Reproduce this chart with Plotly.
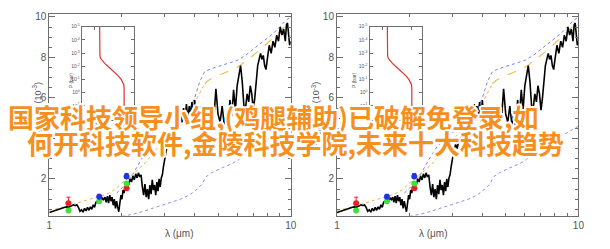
import plotly.graph_objects as go

# ---------------- data ----------------
spec_wl = [1.00, 1.02, 1.04, 1.06, 1.08, 1.10, 1.12, 1.14, 1.16, 1.18, 1.20, 1.22, 1.24, 1.26, 1.28,
           1.30, 1.32, 1.34, 1.36, 1.38, 1.40, 1.42, 1.44, 1.46, 1.48, 1.50, 1.52, 1.54, 1.56, 1.58,
           1.60, 1.62, 1.64, 1.66, 1.68, 1.70, 1.72, 1.74, 1.76, 1.78, 1.80, 1.82, 1.84, 1.86, 1.88,
           1.90, 1.92, 1.94, 1.96, 1.98, 2.00, 2.02, 2.04, 2.06, 2.08, 2.10, 2.13, 2.16, 2.19, 2.22,
           2.25, 2.28, 2.31, 2.34, 2.37, 2.40, 2.43, 2.46, 2.49, 2.52, 2.55, 2.58, 2.61, 2.64, 2.67,
           2.70, 2.73, 2.76, 2.79, 2.82, 2.85, 2.88, 2.91, 2.94, 2.97, 3.00, 3.05, 3.10, 3.15, 3.20,
           3.25, 3.30, 3.35, 3.40, 3.45, 3.50, 3.55, 3.60, 3.65, 3.70, 3.75, 3.80, 3.85, 3.90, 3.95,
           4.00, 4.05, 4.10, 4.15, 4.20, 4.25, 4.30, 4.40, 4.50, 4.60, 4.70, 4.80, 4.90, 5.00, 5.10,
           5.20, 5.30, 5.40, 5.50, 5.60, 5.70, 5.80, 5.90, 6.00, 6.10, 6.20, 6.30, 6.40, 6.50, 6.60,
           6.70, 6.80, 6.90, 7.00, 7.10, 7.20, 7.30, 7.40, 7.50, 7.60, 7.70, 7.80, 7.90, 8.00, 8.15,
           8.30, 8.45, 8.60, 8.75, 8.90, 9.05, 9.20, 9.35, 9.50, 9.60, 9.70, 9.80, 9.90, 10.0]
spec_flux = [0.34, 0.38, 0.40, 0.45, 0.48, 0.52, 0.55, 0.58, 0.60, 0.62, 0.60, 0.64, 0.70, 0.72, 0.68,
             0.72, 0.60, 0.40, 0.48, 0.36, 0.55, 0.42, 0.60, 0.45, 0.62, 0.50, 0.72, 0.60, 0.85, 0.90,
             0.95, 1.00, 0.92, 1.05, 0.98, 1.10, 0.85, 1.15, 0.80, 1.20, 0.90, 1.10, 0.70, 1.00, 0.55,
             0.90, 0.62, 0.38, 0.80, 1.20, 1.00, 1.45, 1.30, 1.60, 1.55, 1.85, 1.70, 2.00, 1.85, 2.15,
             1.95, 2.25, 2.05, 2.30, 2.10, 2.20, 1.60, 1.20, 1.75, 1.10, 1.50, 1.00, 1.70, 1.25, 1.95,
             1.45, 1.70, 1.20, 1.85, 1.40, 2.00, 1.60, 2.05, 2.20, 2.60, 3.00, 3.40, 3.70, 3.50, 4.00,
             3.80, 4.30, 4.70, 4.40, 5.00, 5.30, 4.80, 5.50, 5.00, 5.70, 4.90, 5.60, 5.20, 5.80, 4.80,
             5.90, 5.00, 5.40, 4.70, 5.60, 4.60, 5.10, 4.50, 5.30, 4.70, 5.60, 4.90, 6.45, 5.20, 4.80,
             5.60, 4.70, 5.20, 4.60, 5.90, 5.10, 6.40, 5.40, 6.60, 7.20, 7.60, 6.80, 5.60, 5.50, 6.20,
             5.80, 6.60, 6.20, 5.40, 6.00, 7.00, 7.60, 7.90, 8.20, 7.90, 8.10, 7.60, 7.40, 7.90, 8.60,
             8.20, 8.80, 8.50, 9.10, 8.80, 9.50, 9.10, 9.40, 8.80, 9.60, 9.70, 9.20, 8.60, 8.80]

model_lo_wl = [1.0, 1.1, 1.2, 1.3, 1.4, 1.5, 1.6, 1.7, 1.8, 1.9, 2.0, 2.1, 2.2, 2.3, 2.5, 2.7, 3.0,
               3.3, 3.6, 3.9, 4.2, 4.4]
model_lo_flux = [0.45, 0.55, 0.68, 0.80, 0.90, 1.00, 1.10, 1.22, 1.35, 1.55, 1.80, 2.00, 2.20, 2.40,
                 2.80, 3.30, 3.90, 4.40, 4.90, 5.50, 6.20, 6.70]
model_hi_wl = [4.4, 4.6, 5.0, 5.5, 6.0, 6.5, 7.0, 7.5, 8.0, 8.5, 9.0, 9.5, 10.0]
model_hi_flux = [6.70, 6.90, 7.10, 7.30, 7.50, 7.80, 8.10, 8.40, 8.70, 9.00, 9.30, 9.55, 9.75]

bb_hot_wl = [1.9, 2.0, 2.1, 2.2, 2.4, 2.6, 2.9, 3.2, 3.5, 3.8, 4.0, 4.2, 4.4, 4.7, 5.0, 5.5, 6.0,
             6.5, 7.0, 7.5, 8.0, 8.5, 9.0, 9.5, 10.0]
bb_hot_flux = [1.30, 1.55, 1.85, 2.15, 2.95, 3.60, 4.15, 4.50, 4.85, 5.40, 6.00, 6.80, 7.30, 7.45,
               7.55, 7.70, 7.85, 8.10, 8.40, 8.70, 8.95, 9.20, 9.50, 9.80, 10.0]
bb_cold_wl = [2.0, 2.3, 2.6, 2.9, 3.2, 3.5, 3.8, 4.1, 4.3, 4.45, 4.7, 5.2, 5.7, 6.1, 6.5, 7.0,
              8.0, 9.0, 10.0]
bb_cold_flux = [0.15, 0.30, 0.50, 0.70, 0.85, 1.00, 1.20, 1.50, 1.75, 2.10, 2.30, 2.55, 2.75, 2.95,
                3.30, 3.55, 3.95, 4.30, 4.60]

phot_red_wl = [1.20, 2.09]
phot_red_flux = [0.80, 1.54]
phot_red_err = [0.30, 0.0]
phot_green_wl = [1.20, 1.61, 2.09]
phot_green_flux = [0.44, 0.90, 1.78]
phot_blue_wl = [1.61, 2.09]
phot_blue_flux = [1.12, 2.12]
phot_blue_err = [0.12, 0.15]

tp_temp = [1170, 1170, 1172, 1180, 1200, 1260, 1350, 1450, 1580, 1700, 1810, 1900, 1960, 1990, 2000, 2000, 2000]
tp_pres = [1e-5, 1e-4, 1e-3, 10**-2.8, 10**-2.6, 10**-2.4, 10**-2.2, 10**-2.0, 10**-1.75, 10**-1.5,
           10**-1.25, 10**-1.0, 10**-0.8, 10**-0.6, 10**-0.3, 1e1, 1e2]

y_ticks = [2, 4, 6, 8, 10]
y_ticklabels = ["2", "4", "6", "8", "10"]
x_ticks = [1, 10]
x_ticklabels = ["1", "10"]
p_ticks = [1e-5, 1e-4, 1e-3, 1e-2, 1e-1, 1e0, 1e1]
p_ticklabels = ["10<sup>-5</sup>", "10<sup>-4</sup>", "10<sup>-3</sup>", "10<sup>-2</sup>",
                "10<sup>-1</sup>", "10<sup>0</sup>", "10<sup>1</sup>"]
t_ticks = [1000, 2000]
t_ticklabels = ["1000", "2000"]

title_line1 = "国家科技领导小组,(鸡腿辅助)已破解免登录,如"
title_line2 = "何开科技软件,金陵科技学院,未来十大科技趋势"
planet_label = "WASP-43b"

# ---------------- figure ----------------
W, H = 610, 249
AX = "#6e6e6e"
LBL = "#555555"
FONT = "Liberation Sans"

fig = go.Figure()

panels = [  # (main x, main y, inset x, inset y, pixel offset)
    ("x", "y", "x3", "y3", 0),
    ("x2", "y2", "x4", "y4", 292),
]

for mx, my, ix, iy, off in panels:
    fig.add_trace(go.Scatter(x=bb_cold_wl, y=bb_cold_flux, mode="lines", xaxis=mx, yaxis=my,
                             line=dict(color="#8f8fe6", width=1, dash="dot"), showlegend=False))
    fig.add_trace(go.Scatter(x=bb_hot_wl, y=bb_hot_flux, mode="lines", xaxis=mx, yaxis=my,
                             line=dict(color="#7f7fe0", width=1, dash="dot"), showlegend=False))
    fig.add_trace(go.Scatter(x=model_lo_wl, y=model_lo_flux, mode="lines", xaxis=mx, yaxis=my,
                             line=dict(color="#f0b040", width=1, dash="dot"), showlegend=False))
    fig.add_trace(go.Scatter(x=model_hi_wl, y=model_hi_flux, mode="lines", xaxis=mx, yaxis=my,
                             line=dict(color="#f0c050", width=1.2, dash="dash"), showlegend=False))
    fig.add_trace(go.Scatter(x=spec_wl, y=spec_flux, mode="lines", xaxis=mx, yaxis=my,
                             line=dict(color="black", width=1.6), showlegend=False))
    fig.add_trace(go.Scatter(x=phot_red_wl, y=phot_red_flux, mode="markers", xaxis=mx, yaxis=my,
                             marker=dict(color="#e8202a", size=6),
                             error_y=dict(type="data", symmetric=False, array=phot_red_err,
                                          arrayminus=[0] * len(phot_red_err), color="#e8202a",
                                          width=2, thickness=1),
                             showlegend=False))
    fig.add_trace(go.Scatter(x=phot_green_wl, y=phot_green_flux, mode="markers", xaxis=mx, yaxis=my,
                             marker=dict(color="#3ee03a", size=6), showlegend=False))
    fig.add_trace(go.Scatter(x=phot_blue_wl, y=phot_blue_flux, mode="markers", xaxis=mx, yaxis=my,
                             marker=dict(color="#2233dd", size=6),
                             error_y=dict(type="data", symmetric=False, array=phot_blue_err,
                                          arrayminus=[0] * len(phot_blue_err), color="#2233dd",
                                          width=2, thickness=1),
                             showlegend=False))
    fig.add_trace(go.Scatter(x=tp_temp, y=tp_pres, mode="lines", xaxis=ix, yaxis=iy,
                             line=dict(color="#e03030", width=1.2), showlegend=False))

    # labels
    fig.add_annotation(x=6.25, y=1.32, xref=mx, yref=my, text=planet_label, showarrow=False,
                       font=dict(family=FONT, size=11, color="#333333"))
    fig.add_annotation(x=(162 + off) / W, y=(249 - 241) / H, xref="paper", yref="paper",
                       text="λ (μm)", showarrow=False, font=dict(family=FONT, size=10, color=LBL))
    fig.add_annotation(x=(26 + off) / W, y=(249 - 113) / H, xref="paper", yref="paper",
                       text="F<sub>planet</sub>/F<sub>star</sub> (10<sup>-3</sup>)", textangle=-90,
                       showarrow=False, font=dict(family=FONT, size=9, color=LBL))
    fig.add_annotation(x=(64 + off) / W, y=(249 - 68) / H, xref="paper", yref="paper",
                       text="P (bar)", textangle=-90, showarrow=False,
                       font=dict(family=FONT, size=5, color=LBL))


def main_x(dom):
    return dict(domain=dom, type="log", range=[0, 1], showline=True, linecolor=AX, linewidth=1,
                mirror="allticks", ticks="inside", ticklen=6, tickcolor=AX, tickvals=x_ticks,
                ticktext=x_ticklabels, showgrid=False, zeroline=False,
                minor=dict(ticks="inside", ticklen=3, tickcolor=AX, tickvals=[2, 3, 4, 5, 6, 7, 8, 9]),
                tickfont=dict(family=FONT, size=10, color=LBL))


def main_y(anchor):
    return dict(domain=[(249 - 216) / H, (249 - 11) / H], range=[0.15, 10.15], anchor=anchor,
                showline=True, linecolor=AX, linewidth=1, mirror="allticks", ticks="inside",
                ticklen=6, tickcolor=AX, tickvals=y_ticks, ticktext=y_ticklabels, showgrid=False,
                zeroline=False, minor=dict(ticks="inside", ticklen=3, tickcolor=AX, dtick=0.5),
                tickfont=dict(family=FONT, size=10, color=LBL))


def inset_x(dom, anchor):
    return dict(domain=dom, range=[566, 2336], anchor=anchor, showline=True, linecolor=AX,
                linewidth=1, mirror="allticks", ticks="inside", ticklen=3, tickcolor=AX,
                tickvals=t_ticks, ticktext=t_ticklabels, showgrid=False, zeroline=False,
                tickfont=dict(family=FONT, size=5, color=LBL))


def inset_y(anchor):
    return dict(domain=[(249 - 118) / H, (249 - 24) / H], type="log", range=[2.05, -5],
                anchor=anchor, showline=True, linecolor=AX, linewidth=1, mirror="allticks",
                ticks="inside", ticklen=3, tickcolor=AX, tickvals=p_ticks, ticktext=p_ticklabels,
                showgrid=False, zeroline=False, tickfont=dict(family=FONT, size=5, color=LBL))


fig.update_layout(
    width=W, height=H, margin=dict(l=0, r=0, t=0, b=0),
    paper_bgcolor="white", plot_bgcolor="rgba(0,0,0,0)", showlegend=False,
    xaxis=dict(main_x([47 / W, 292 / W]), anchor="y"),
    yaxis=main_y("x"),
    xaxis2=dict(main_x([339 / W, 584 / W]), anchor="y2"),
    yaxis2=main_y("x2"),
    xaxis3=inset_x([80 / W, 133 / W], "y3"),
    yaxis3=inset_y("x3"),
    xaxis4=inset_x([372 / W, 425 / W], "y4"),
    yaxis4=inset_y("x4"),
)

outline = ", ".join(f"{dx}px {dy}px 0 #ffffff" for dx, dy in
                    [(-2, 0), (2, 0), (0, -2), (0, 2), (-1, -1), (1, -1), (-1, 1), (1, 1),
                     (-2, -1), (2, 1), (-1, 2), (1, -2)])
title_font = dict(family="Noto Sans CJK SC", size=26, color="#f5901e", weight="bold", shadow=outline)
fig.add_annotation(x=275 / W, y=(249 - 115) / H, xref="paper", yref="paper", text=title_line1,
                   showarrow=False, font=title_font, xanchor="center", yanchor="middle")
fig.add_annotation(x=297 / W, y=(249 - 141) / H, xref="paper", yref="paper", text=title_line2,
                   showarrow=False, font=title_font, xanchor="center", yanchor="middle")

fig.write_html("out.html")
